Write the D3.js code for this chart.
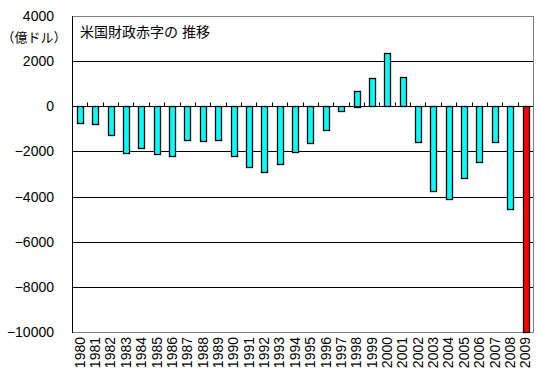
<!DOCTYPE html>
<html>
<head>
<meta charset="utf-8">
<script src="https://cdn.jsdelivr.net/npm/d3@7"></script>
<style>
body { margin: 0; background: #fff; }
text { font-family: "Liberation Sans", "Noto Sans CJK JP", sans-serif; }
</style>
</head>
<body>
<script>
const width = 538;
const height = 381;

// 米国財政収支 (億ドル)
const years = ["1980","1981","1982","1983","1984","1985","1986","1987","1988","1989",
  "1990","1991","1992","1993","1994","1995","1996","1997","1998","1999",
  "2000","2001","2002","2003","2004","2005","2006","2007","2008","2009"];
const balance = [-738,-790,-1280,-2078,-1854,-2123,-2212,-1497,-1552,-1525,
  -2212,-2692,-2904,-2551,-2031,-1640,-1075,-219,692,1256,
  2362,1282,-1578,-3776,-4127,-3183,-2482,-1615,-4548,-10000];
const yTicks = [4000,2000,0,-2000,-4000,-6000,-8000,-10000];
const highlight = "2009";

const pLeft = 72, pRight = 533, pTop = 16, pBottom = 332;

const svg = d3.select("body").append("svg")
  .attr("width", width)
  .attr("height", height);

const x = d3.scaleBand().domain(years).range([pLeft, pRight]).paddingInner(0.64).paddingOuter(0.32);
const y = d3.scaleLinear().domain([-10000, 4000]).range([pBottom, pTop]);

// gridlines
svg.selectAll(".grid")
  .data(yTicks.filter(d => d != 4000 && d != -10000 && d != 0))
  .enter().append("line")
  .attr("x1", pLeft).attr("x2", pRight)
  .attr("y1", d => Math.round(y(d)) + 0.5).attr("y2", d => Math.round(y(d)) + 0.5)
  .attr("stroke", "#000").attr("stroke-width", 1);

// plot border
svg.append("rect")
  .attr("x", pLeft + 0.5).attr("y", pTop + 0.5)
  .attr("width", pRight - pLeft).attr("height", pBottom - pTop)
  .attr("fill", "none").attr("stroke", "#808080");

// bars
svg.selectAll(".bar")
  .data(years)
  .enter().append("rect")
  .attr("x", d => Math.round(x(d)) + 0.5)
  .attr("y", (d, i) => Math.round(y(Math.max(0, balance[i]))) + 0.5)
  .attr("width", Math.round(x.bandwidth()))
  .attr("height", (d, i) => Math.round(Math.abs(y(balance[i]) - y(0))))
  .attr("fill", d => d == highlight ? "#ff0000" : "#00ffff")
  .attr("stroke", "#000")
  .attr("stroke-width", 1.3);

// left axis
svg.append("line")
  .attr("x1", pLeft + 0.5).attr("x2", pLeft + 0.5)
  .attr("y1", pTop).attr("y2", pBottom + 1)
  .attr("stroke", "#000");

// zero axis with ticks between categories
const y0 = Math.round(y(0)) + 0.5;
svg.append("line")
  .attr("x1", pLeft).attr("x2", pRight)
  .attr("y1", y0).attr("y2", y0)
  .attr("stroke", "#000");
svg.selectAll(".tick")
  .data(d3.range(1, years.length))
  .enter().append("line")
  .attr("x1", i => Math.round(pLeft + i * x.step()) + 0.5)
  .attr("x2", i => Math.round(pLeft + i * x.step()) + 0.5)
  .attr("y1", y0 - 4).attr("y2", y0)
  .attr("stroke", "#000");

// y labels
svg.selectAll(".ylab")
  .data(yTicks)
  .enter().append("text")
  .attr("x", 54)
  .attr("y", d => y(d) + 5)
  .attr("text-anchor", "end")
  .attr("font-size", 14)
  .text(d => d < 0 ? "\u2212" + Math.abs(d) : d);

svg.append("text")
  .attr("x", 34).attr("y", 42)
  .attr("text-anchor", "middle")
  .attr("font-size", 13)
  .text("（億ドル）");

// x labels
svg.selectAll(".xlab")
  .data(years)
  .enter().append("text")
  .attr("transform", d => "translate(" + (x(d) + x.bandwidth() / 2 + 5) + "," + 337 + ") rotate(-90)")
  .attr("text-anchor", "end")
  .attr("font-size", 14)
  .text(d => d);

// title
svg.append("text")
  .attr("x", 80).attr("y", 37)
  .attr("font-size", 14)
  .text("米国財政赤字の 推移");
</script>
</body>
</html>
